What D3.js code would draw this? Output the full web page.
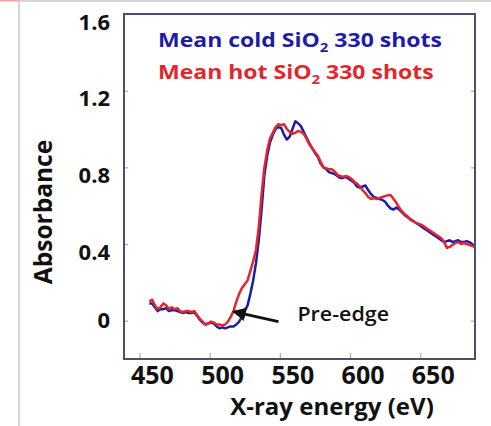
<!DOCTYPE html>
<html>
<head>
<meta charset="utf-8">
<script src="https://cdn.jsdelivr.net/npm/d3@7"></script>
<style>
  body { margin: 0; background: #fff; }
  text { font-family: "Open Sans", Lato, sans-serif; font-weight: 700; }
</style>
</head>
<body>
<script>
// DATA

const energy = [457,459,461,463,465,467,469,471,473,475,477,479,481,483,485,487,489,491,493,495,497,499,501,503,505,507,509,511,513,515,517,519,521,523,525,527,529,531,533,535,537,539,541,543,545,547,549,551,553,555,557,559,561,563,565,567,569,571,573,575,577,579,581,583,585,587,589,591,593,595,597,599,601,603,605,607,609,611,613,615,617,619,621,623,625,627,629,631,633,635,637,639,641,643,645,647,649,651,653,655,657,659,661,663,665,667,669,671,673,675,677,679,681,683,685,687,689];

const coldSiO2 = [0.09,0.09,0.07,0.05,0.06,0.06,0.065,0.05,0.055,0.055,0.05,0.045,0.04,0.045,0.04,0.04,0.045,0.025,0.005,-0.01,-0.02,-0.015,-0.01,-0.015,-0.03,-0.04,-0.035,-0.04,-0.035,-0.03,-0.03,-0.02,-0.005,0.02,0.05,0.08,0.14,0.21,0.30,0.42,0.58,0.76,0.86,0.93,0.97,1.00,1.01,1.005,0.97,0.945,0.96,1.00,1.04,1.03,1.015,0.985,0.955,0.925,0.90,0.875,0.855,0.82,0.80,0.79,0.775,0.77,0.765,0.755,0.745,0.745,0.75,0.74,0.73,0.72,0.70,0.695,0.70,0.705,0.68,0.66,0.645,0.64,0.635,0.63,0.62,0.60,0.585,0.58,0.59,0.58,0.565,0.55,0.54,0.53,0.52,0.51,0.50,0.49,0.48,0.47,0.46,0.45,0.44,0.43,0.42,0.41,0.415,0.42,0.41,0.415,0.42,0.41,0.41,0.415,0.41,0.40,0.38];

const hotSiO2 = [0.10,0.11,0.08,0.06,0.07,0.09,0.08,0.06,0.07,0.06,0.065,0.05,0.045,0.05,0.05,0.045,0.05,0.03,0.01,-0.005,-0.02,-0.015,-0.005,-0.01,-0.02,-0.02,-0.025,-0.02,-0.005,0.02,0.05,0.10,0.14,0.17,0.19,0.21,0.26,0.31,0.37,0.49,0.66,0.80,0.89,0.95,0.98,1.01,1.025,1.02,1.025,1.00,0.985,0.975,0.98,0.99,0.985,0.975,0.95,0.92,0.90,0.88,0.86,0.83,0.80,0.795,0.79,0.79,0.78,0.76,0.755,0.75,0.755,0.75,0.74,0.725,0.715,0.70,0.68,0.665,0.645,0.635,0.64,0.635,0.64,0.645,0.65,0.655,0.655,0.635,0.615,0.59,0.57,0.555,0.545,0.525,0.52,0.51,0.505,0.50,0.49,0.48,0.47,0.46,0.45,0.44,0.43,0.41,0.38,0.385,0.395,0.405,0.41,0.40,0.405,0.40,0.395,0.39,0.385];

const xTicks = [450, 500, 550, 600, 650];
const yTicks = [0, 0.4, 0.8, 1.2, 1.6];

const legendLabels = ["Mean cold SiO", "Mean hot SiO"];
const legendSuffix = " 330 shots";

// MAKE THE CHART

const W = 491;
const H = 426;
const padL = 124, padR = 475, padT = 14, padB = 359;
const blue = "#1d1ca6";
const red = "#e3262b";

const svg = d3.select("body")
.append("svg")
.attr("width", W)
.attr("height", H);

// faint border of the original slide
svg.append("path")
.attr("d", `M19,${H} V1 H${W}`)
.attr("fill", "none")
.attr("stroke", "#c8c8c8")
.attr("stroke-width", 1.5);
svg.append("line")
.attr("x1", 0).attr("x2", 19).attr("y1", 0.7).attr("y2", 0.7)
.attr("stroke", "#f0a0a0").attr("stroke-width", 1.5);

const xScale = d3.scaleLinear().domain([439, 689]).range([padL, padR]);
const yScale = d3.scaleLinear().domain([-0.2, 1.6]).range([padB, padT]);

// ticks inside the frame
const xAxis = d3.axisBottom(xScale).tickValues(xTicks).tickSize(-6).tickFormat("");
svg.append("g")
.attr("transform", `translate(0,${padB})`)
.call(xAxis)
.call(g => g.select(".domain").remove())
.call(g => g.selectAll("line").attr("stroke", "#aaa").attr("stroke-width", 1.2));

const yAxis = d3.axisLeft(yScale).tickValues(yTicks).tickSize(-4).tickFormat("");
svg.append("g")
.attr("transform", `translate(${padL},0)`)
.call(yAxis)
.call(g => g.select(".domain").remove())
.call(g => g.selectAll("line").attr("stroke", "#aaa").attr("stroke-width", 1.2));

const yAxisR = d3.axisRight(yScale).tickValues(yTicks).tickSize(-4).tickFormat("");
svg.append("g")
.attr("transform", `translate(${padR},0)`)
.call(yAxisR)
.call(g => g.select(".domain").remove())
.call(g => g.selectAll("line").attr("stroke", "#aaa").attr("stroke-width", 1.2));

// tick labels
svg.selectAll(".xlab")
.data(xTicks)
.enter()
.append("text")
.attr("class", "xlab")
.attr("x", d => xScale(d) + 13)
.attr("y", 384)
.attr("text-anchor", "middle")
.style("font-size", "25px")
.attr("fill", "#111")
.text(d => d);

svg.selectAll(".ylab")
.data(yTicks)
.enter()
.append("text")
.attr("class", "ylab")
.attr("x", 110)
.attr("y", d => yScale(d) + (d === 0 ? 0 : 8))
.attr("dy", "0.35em")
.attr("text-anchor", "end")
.style("font-size", "22px")
.attr("fill", "#111")
.text(d => d3.format("~g")(d));

// curves
const line = d3.line()
.x(d => xScale(d[0]))
.y(d => yScale(d[1]));

svg.append("path")
.datum(energy.map((e, i) => [e, coldSiO2[i]]))
.attr("d", line)
.attr("fill", "none")
.attr("stroke", blue)
.attr("stroke-width", 2.5)
.attr("stroke-linejoin", "round");

svg.append("path")
.datum(energy.map((e, i) => [e, hotSiO2[i]]))
.attr("d", line)
.attr("fill", "none")
.attr("stroke", red)
.attr("stroke-width", 2.5)
.attr("stroke-linejoin", "round");

// frame
svg.append("rect")
.attr("x", padL)
.attr("y", padT)
.attr("width", padR - padL)
.attr("height", padB - padT)
.attr("fill", "none")
.attr("stroke", "#4d4e6e")
.attr("stroke-width", 2);

// legend (text is a little wider than the font, so stretch it)
[[legendLabels[0], blue, 47], [legendLabels[1], red, 79]].forEach(([lab, col, y]) => {
  const t = svg.append("text")
  .attr("transform", `translate(158,${y}) scale(1.15,1)`)
  .attr("fill", col)
  .style("font-size", "20px");
  t.append("tspan").text(lab);
  t.append("tspan").attr("dy", 5).style("font-size", "13px").text("2");
  t.append("tspan").attr("dy", -5).text(legendSuffix);
});

// annotation
svg.append("defs")
.append("marker")
.attr("id", "head")
.attr("viewBox", "0 0 10 10")
.attr("refX", 9)
.attr("refY", 5)
.attr("markerWidth", 4.5)
.attr("markerHeight", 4.5)
.attr("orient", "auto")
.append("path")
.attr("d", "M0,0 L10,5 L0,10 Z")
.attr("fill", "#111");

svg.append("line")
.attr("x1", xScale(549))
.attr("y1", yScale(-0.005))
.attr("x2", xScale(517))
.attr("y2", yScale(0.047))
.attr("stroke", "#111")
.attr("stroke-width", 3)
.attr("marker-end", "url(#head)");

svg.append("text")
.attr("transform", `translate(${xScale(562.5)},${yScale(0)}) scale(1.1,1)`)
.attr("fill", "#111")
.style("font-size", "19.5px")
.style("font-weight", 600)
.text("Pre-edge");

// axis titles
svg.append("text")
.attr("x", 332)
.attr("y", 415)
.attr("text-anchor", "middle")
.attr("fill", "#111")
.style("font-size", "24px")
.text("X-ray energy (eV)");

svg.append("text")
.attr("transform", "translate(52,212) rotate(-90)")
.attr("text-anchor", "middle")
.attr("fill", "#111")
.style("font-size", "24.5px")
.text("Absorbance");
</script>
</body>
</html>
